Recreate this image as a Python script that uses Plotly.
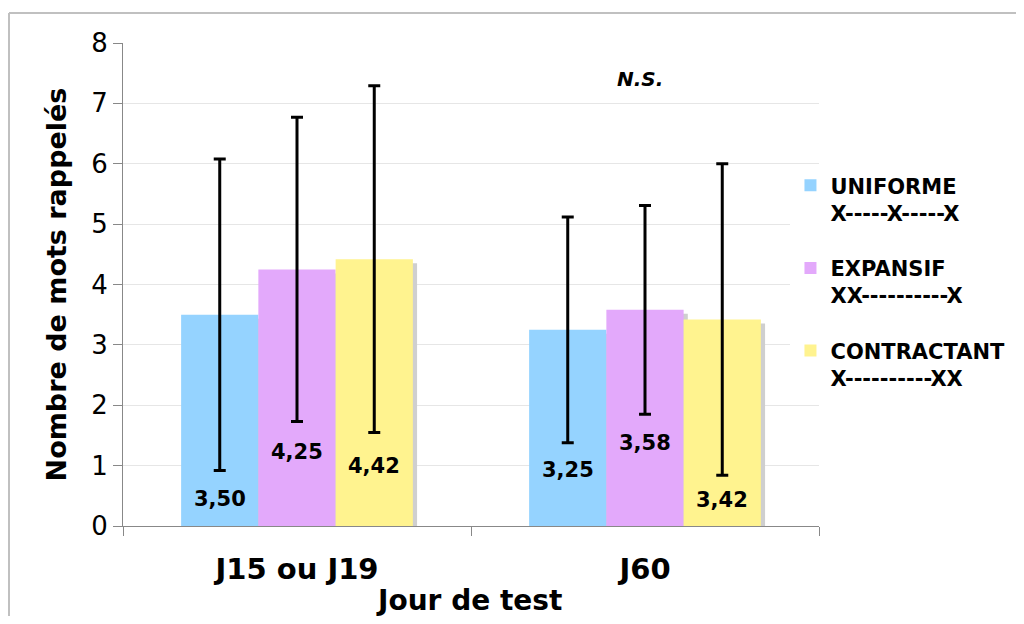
import plotly.graph_objects as go

# ---- data ----
categories = ["J15 ou J19", "J60"]
series_names = ["UNIFORME<br>X-----X-----X", "EXPANSIF<br>XX----------X", "CONTRACTANT<br>X----------XX"]
uniforme = [3.50, 3.25]
expansif = [4.25, 3.58]
contractant = [4.42, 3.42]
err_uniforme = [2.58, 1.87]
err_expansif = [2.52, 1.73]
err_contractant = [2.87, 2.58]
value_labels_uniforme = ["3,50", "3,25"]
value_labels_expansif = ["4,25", "3,58"]
value_labels_contractant = ["4,42", "3,42"]
y_ticks = [0, 1, 2, 3, 4, 5, 6, 7, 8]
x_title = "Jour de test"
y_title = "Nombre de mots rappelés"

# ---- layout helpers (positions/styles) ----
label_pos = [[0.45, 0.93], [1.23, 1.38], [0.99, 0.43]]
colors = ["#95d3ff", "#e3a9fb", "#fff38f"]
FONT = "DejaVu Sans"
bar_w = 0.222
shadow_dx = 0.012
shadow_dy = 0.066

values = [uniforme, expansif, contractant]
errors = [err_uniforme, err_expansif, err_contractant]
vlabels = [value_labels_uniforme, value_labels_expansif, value_labels_contractant]
xpos = list(range(len(categories)))

fig = go.Figure()

# shadows
for i, vals in enumerate(values):
    off = (i - 1) * bar_w
    fig.add_trace(go.Bar(
        x=[p + off + shadow_dx for p in xpos],
        y=[v - shadow_dy for v in vals],
        width=bar_w, marker=dict(color="#cfcfcf", line=dict(width=0)),
        showlegend=False, hoverinfo="skip"))

# main bars
for i, vals in enumerate(values):
    off = (i - 1) * bar_w
    fig.add_trace(go.Bar(
        x=[p + off for p in xpos], y=vals, width=bar_w,
        name="<b>" + series_names[i] + "</b>",
        legendgroup=f"g{i}",
        marker=dict(color=colors[i], line=dict(width=0)),
        error_y=dict(type="data", array=errors[i], visible=True,
                     color="black", thickness=3, width=6)))

annotations = []
for i, vals in enumerate(values):
    off = (i - 1) * bar_w
    for j, p in enumerate(xpos):
        annotations.append(dict(
            x=p + off, y=label_pos[i][j], xref="x", yref="y",
            text="<b>" + vlabels[i][j] + "</b>", showarrow=False,
            font=dict(family=FONT, size=21, color="black")))

annotations.append(dict(x=0.985, y=7.4, xref="x", yref="y", text="<b><i>N.S.</i></b>",
                        showarrow=False, font=dict(family=FONT, size=20, color="black")))

# x-axis title placed as a paper annotation
annotations.append(dict(x=0.497, y=(526 - 600) / 483, xref="paper", yref="paper",
                        xanchor="center", yanchor="middle",
                        text="<b>" + x_title + "</b>", showarrow=False,
                        font=dict(family=FONT, size=28, color="black")))

# outer frame (left and top edges visible in the view)
fx0 = (9 - 123) / 696
fy1 = (526 - 13) / 483
frame = [
    dict(type="line", xref="paper", yref="paper", x0=fx0, x1=fx0, y0=-0.3, y1=fy1,
         line=dict(color="#c0c0c0", width=2), layer="below"),
    dict(type="line", xref="paper", yref="paper", x0=fx0, x1=1.4, y0=fy1, y1=fy1,
         line=dict(color="#c0c0c0", width=2), layer="below"),
]

fig.update_layout(
    width=1016, height=608,
    margin=dict(l=115, r=205, t=35, b=90),
    paper_bgcolor="white", plot_bgcolor="white",
    barmode="overlay",
    font=dict(family=FONT, color="black"),
    annotations=annotations,
    showlegend=True,
    legend=dict(x=0.959, y=0.747, xanchor="left", yanchor="top",
                bgcolor="white", font=dict(family=FONT, size=21, color="black"),
                tracegroupgap=25, valign="top", itemclick=False),
    shapes=frame,
)

fig.update_xaxes(
    range=[-0.5, 1.5], tickmode="array", tickvals=xpos,
    ticktext=["<b>" + c + "</b>" for c in categories],
    ticks="", tickfont=dict(family=FONT, size=29, color="black"),
    ticklabelstandoff=17, automargin=False,
    minor=dict(tickmode="linear", tick0=-0.5, dtick=1, ticks="outside",
               ticklen=9, tickcolor="#888", tickwidth=1, showgrid=False),
    showline=True, linecolor="#888", linewidth=1, showgrid=False, zeroline=False)

fig.update_yaxes(
    range=[0, 8], tickmode="array", tickvals=y_ticks,
    ticks="outside", ticklen=9, tickcolor="#888", automargin=False,
    tickfont=dict(family=FONT, size=26, color="black"),
    showline=True, linecolor="#888", linewidth=1,
    showgrid=True, gridcolor="#e6e6e6", zeroline=False,
    title=dict(text="<b>" + y_title + "</b>",
               font=dict(family=FONT, size=27, color="black"), standoff=16))

fig.write_html("out.html")
